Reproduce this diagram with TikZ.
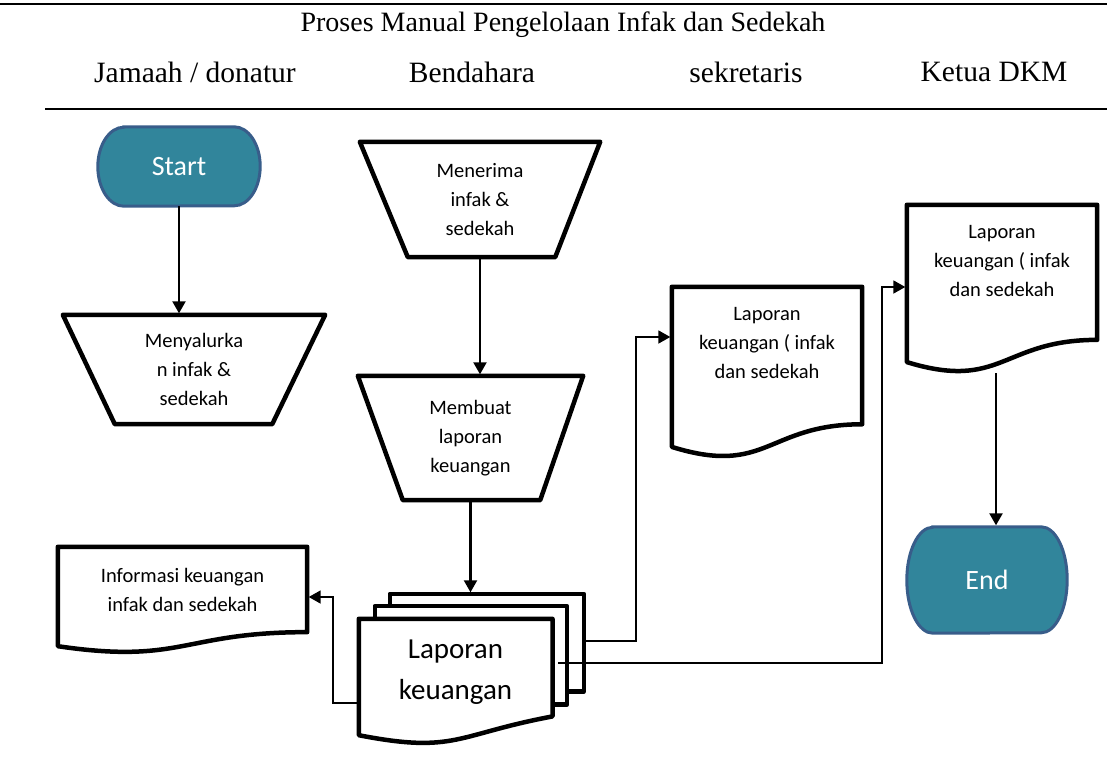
\documentclass[tikz,border=0pt]{standalone}
\usepackage{fontspec}
\setmainfont{Liberation Serif}
\newfontfamily\calibri{Carlito}
\usetikzlibrary{arrows.meta,calc,backgrounds}

\definecolor{termfill}{RGB}{49,133,155}
\definecolor{termedge}{RGB}{56,93,138}

% outline of a terminal node: node name, half height
\newcommand\termpath[2]{([xshift=26pt]#1.north west) -- ([xshift=-26pt]#1.north east) arc[start angle=90,end angle=-90,x radius=26pt,y radius=#2] -- ([xshift=26pt]#1.south west) arc[start angle=270,end angle=90,x radius=26pt,y radius=#2] -- cycle}
% outline of a document node
\newcommand\docpath[1]{(#1.north west) -- (#1.north east) -- ($(#1.north east)!0.802!(#1.south east)$) .. controls ($(#1.north)!0.802!(#1.south)$) and ($(#1.north)!1.107!(#1.south)$) .. ($(#1.north west)!0.934!(#1.south west)$) -- cycle}

\begin{document}
\begin{tikzpicture}[x=1pt,y=-1pt,
  lane/.style={font=\fontsize{29.5}{32}\selectfont},
  txt/.style={font=\calibri\fontsize{20.5}{29}\selectfont, align=center},
  box/.style={inner sep=0pt},
  term/.style={box, text=white, font=\calibri\fontsize{28}{32}\selectfont},
  outline/.style={line width=4.5pt, line join=round},
  termline/.style={draw=termedge, fill=termfill, line width=3pt},
  flow/.style={line width=2.2pt, shorten >=1.5pt, -{Triangle[width=13pt,length=12pt]}},
  link/.style={line width=1.8pt, shorten >=1.5pt, -{Triangle[width=13pt,length=12pt]}},
  hrule/.style={line width=2.5pt}]

\useasboundingbox (0,0) rectangle (1107,771);

% header
\draw[hrule] (0,4) -- (1107,4);
\node[lane, font=\fontsize{28}{32}\selectfont] (title) at (563,25) {Proses Manual Pengelolaan Infak dan Sedekah};
\node[lane] (jamaah) at (195,72) {Jamaah / donatur};
\node[lane] (bendahara) at (472,72) {Bendahara};
\node[lane] (sekretaris) at (746,72) {sekretaris};
\node[lane] (ketua) at (994,72) {Ketua DKM};
\draw[hrule] (45,109) -- (1107,109);

% nodes
\node[term, minimum width=162pt, minimum height=79pt] (start) at (179,166.5) {Start};
\node[box, txt, minimum width=262pt, minimum height=109pt] (salur) at (194,369.5) {Menyalurka\\n infak \&\\sedekah};
\node[box, txt, minimum width=240pt, minimum height=115pt] (terima) at (480,199.5) {Menerima\\infak \&\\sedekah};
\node[box, txt, minimum width=225pt, minimum height=124pt] (buat) at (470.5,438) {Membuat\\laporan\\keuangan};
\node[box, minimum width=225pt, minimum height=147pt] (stack) at (471.5,667.5) {};
\node[txt, font=\calibri\fontsize{29}{41}\selectfont] (stack-txt) at (455.5,672.5) {Laporan\\keuangan};
\node[box, minimum width=249pt, minimum height=106pt] (info) at (182.5,600) {};
\node[txt] (info-txt) at ([yshift=-43pt]info.north) {Informasi keuangan\\infak dan sedekah};
\node[box, minimum width=190pt, minimum height=171pt] (lapsek) at (767,372.5) {};
\node[txt] (lapsek-txt) at ([yshift=-56pt]lapsek.north) {Laporan\\keuangan ( infak\\dan sedekah};
\node[box, minimum width=190pt, minimum height=168pt] (lapket) at (1002,289) {};
\node[txt] (lapket-txt) at ([yshift=-56pt]lapket.north) {Laporan\\keuangan ( infak\\dan sedekah};
\node[term, minimum width=160pt, minimum height=106pt] (finish) at (987,580) {End};

% shapes
\begin{scope}[on background layer]
\draw[termline] \termpath{start}{39.5pt};
\draw[termline] \termpath{finish}{53pt};
\draw[outline] (salur.north west) -- (salur.north east) -- ([xshift=-53pt]salur.south east) -- ([xshift=52pt]salur.south west) -- cycle;
\draw[outline] (terima.north west) -- (terima.north east) -- ([xshift=-45pt]terima.south east) -- ([xshift=48pt]terima.south west) -- cycle;
\draw[outline] (buat.north west) -- (buat.north east) -- ([xshift=-43pt]buat.south east) -- ([xshift=45pt]buat.south west) -- cycle;
\draw[outline] \docpath{info};
\draw[outline] \docpath{lapsek};
\draw[outline] \docpath{lapket};
\begin{scope}[shift={(stack.north west)}]
\draw[outline, fill=white] (31,0) rectangle (225,97.9);
\draw[outline, fill=white] (16,12.4) rectangle (208.3,110.5);
\draw[outline, fill=white] (0,25) -- (193.7,25) -- (193.7,122.6) .. controls (96.8,140.8) and (96.8,160.2) .. (0,141.4) -- cycle;
\end{scope}
\end{scope}

% connectors
\draw[flow] (start.south) -- (start.south |- salur.north);
\draw[flow] (terima.south) -- (terima.south |- buat.north);
\draw[flow] (buat.south) -- (buat.south |- stack.north);
\draw[link] ([yshift=-35.5pt]stack.west) -- ++(-26,0) |- ([yshift=3pt]info.east);
\draw[link] ([yshift=26.5pt]stack.east) -- ++(52,0) |- ([yshift=35.5pt]lapsek.west);
\draw[link] ([xshift=-26pt,yshift=4.5pt]stack.east) -- ++(324,0) |- ([yshift=2pt]lapket.west);
\draw[flow] ([xshift=-6pt]lapket.south) -- ([xshift=-6pt]lapket.south |- finish.north);
\end{tikzpicture}
\end{document}
